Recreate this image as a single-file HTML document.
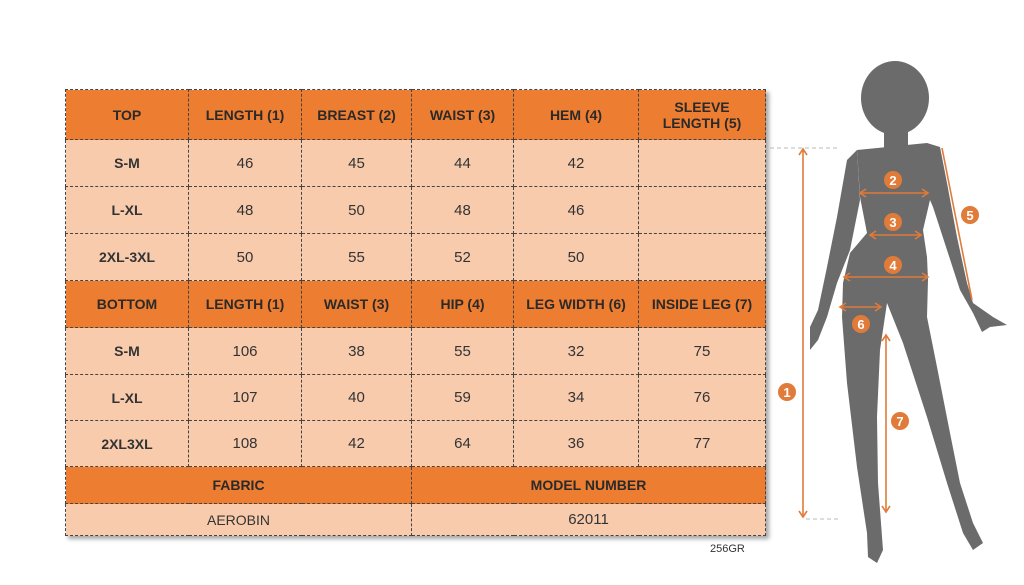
<!DOCTYPE html>
<html><head><meta charset="utf-8"><style>
body{margin:0;width:1024px;height:585px;background:#fff;position:relative;overflow:hidden;font-family:"Liberation Sans",sans-serif;}
table{position:absolute;left:65px;top:89px;border-collapse:collapse;box-shadow:3px 3px 4px rgba(0,0,0,0.35);table-layout:fixed;}
td{border:1px dashed #444;text-align:center;padding:0;font-size:15px;color:#333;}
tr.h td{background:#ed7d31;font-weight:bold;font-size:14px;color:#2a2a2a;}
tr.v td{background:#f8cbad;}
tr.v td:first-child{font-weight:bold;font-size:14px;}
</style></head><body>
<table>
<colgroup><col style="width:123px"><col style="width:113px"><col style="width:110px"><col style="width:102px"><col style="width:125px"><col style="width:127px"></colgroup>
<tr class="h" style="height:50px"><td>TOP</td><td>LENGTH (1)</td><td>BREAST (2)</td><td>WAIST (3)</td><td>HEM (4)</td><td>SLEEVE<br>LENGTH (5)</td></tr>
<tr class="v" style="height:47px"><td>S-M</td><td>46</td><td>45</td><td>44</td><td>42</td><td></td></tr>
<tr class="v" style="height:47px"><td>L-XL</td><td>48</td><td>50</td><td>48</td><td>46</td><td></td></tr>
<tr class="v" style="height:47px"><td>2XL-3XL</td><td>50</td><td>55</td><td>52</td><td>50</td><td></td></tr>
<tr class="h" style="height:47px"><td>BOTTOM</td><td>LENGTH (1)</td><td>WAIST (3)</td><td>HIP (4)</td><td>LEG WIDTH (6)</td><td>INSIDE LEG (7)</td></tr>
<tr class="v" style="height:47px"><td>S-M</td><td>106</td><td>38</td><td>55</td><td>32</td><td>75</td></tr>
<tr class="v" style="height:46px"><td>L-XL</td><td>107</td><td>40</td><td>59</td><td>34</td><td>76</td></tr>
<tr class="v" style="height:46px"><td>2XL3XL</td><td>108</td><td>42</td><td>64</td><td>36</td><td>77</td></tr>
<tr class="h" style="height:37px"><td colspan="3">FABRIC</td><td colspan="3">MODEL NUMBER</td></tr>
<tr class="v" style="height:32px"><td colspan="3" style="font-weight:normal;font-size:14px">AEROBIN</td><td colspan="3">62011</td></tr>
</table>
<div style="position:absolute;left:710px;top:543px;font-size:11px;color:#333">256GR</div>
<svg width="1024" height="585" style="position:absolute;left:0;top:0">
<g fill="#6b6b6b">
<ellipse cx="895" cy="98" rx="34" ry="37"/>
<rect x="884" y="125" width="24" height="28"/>
<path d="M857,150 L927,143 L940,147 L947,183 L957,237 L967,283 L973,303 L993,317 L1007,325 L990,327 L982,332 L973,313 L960,290 L947,250 L933,207 L930,200 L923,230 L927,257 L928,280 L927,317 L937,367 L950,433 L960,483 L973,523 L983,543 L973,550 L963,533 L947,483 L927,417 L903,343 L887,303 L880,350 L877,417 L878,483 L883,550 L877,563 L868,557 L867,533 L857,467 L847,383 L842,317 L843,283 L850,253 L867,233 L860,197 Z"/>
<path d="M857,150 L847,160 L837,217 L827,267 L818,310 L810,327 L810,350 L818,340 L827,317 L837,283 L850,250 L860,200 Z"/>
</g>
<g stroke="#e07b39" stroke-width="1.6" fill="none">
<line x1="803" y1="149" x2="803" y2="517"/><path d="M799,155 L803,149 L807,155 M799,511 L803,517 L807,511"/>
<line x1="861" y1="193" x2="927" y2="193"/><path d="M866,189 L860,193 L866,197 M922,189 L928,193 L922,197"/>
<line x1="871" y1="235" x2="920" y2="235"/><path d="M876,231 L870,235 L876,239 M915,231 L921,235 L915,239"/>
<line x1="845" y1="277" x2="927" y2="277"/><path d="M850,273 L844,277 L850,281 M922,273 L928,277 L922,281"/>
<line x1="942" y1="148" x2="972" y2="300"/>
<line x1="841" y1="307" x2="880" y2="307"/><path d="M846,303 L840,307 L846,311 M875,303 L881,307 L875,311"/>
<line x1="886" y1="335" x2="886" y2="512"/><path d="M882,341 L886,335 L890,341 M882,506 L886,512 L890,506"/>
</g>
<g stroke="#bbb" stroke-dasharray="4,3" stroke-width="1"><line x1="770" y1="148" x2="838" y2="148"/><line x1="806" y1="519" x2="838" y2="519"/></g>
<g fill="#e07b39"><circle cx="787" cy="392" r="9"/><circle cx="893" cy="180" r="9"/><circle cx="893" cy="222" r="9"/><circle cx="893" cy="265" r="9"/><circle cx="970" cy="215" r="9"/><circle cx="861" cy="324" r="9"/><circle cx="900" cy="421" r="9"/></g>
<g fill="#fff" font-size="13" font-weight="bold" text-anchor="middle" font-family="Liberation Sans">
<text x="787" y="397">1</text><text x="893" y="185">2</text><text x="893" y="227">3</text><text x="893" y="270">4</text><text x="970" y="220">5</text><text x="861" y="329">6</text><text x="900" y="426">7</text></g>
</svg>
</body></html>
